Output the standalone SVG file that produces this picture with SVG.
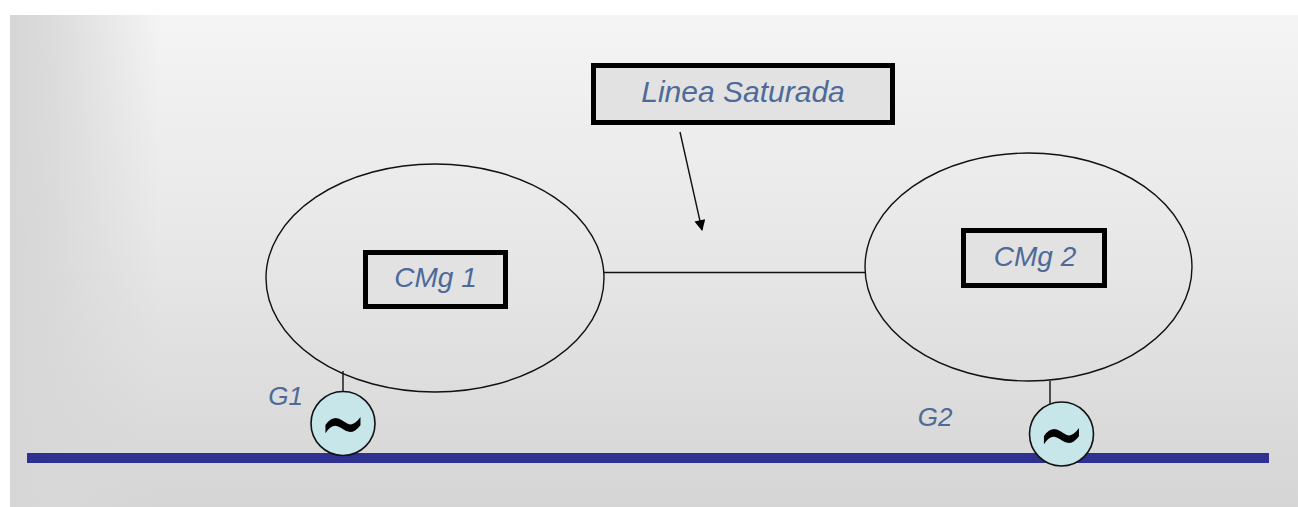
<svg xmlns="http://www.w3.org/2000/svg" width="1298" height="507" viewBox="0 0 1298 507">
  <defs>
    <linearGradient id="bgV" x1="0" y1="0" x2="0" y2="1">
      <stop offset="0" stop-color="#f4f4f4"/>
      <stop offset="0.45" stop-color="#e8e8e8"/>
      <stop offset="1" stop-color="#d5d5d5"/>
    </linearGradient>
    <linearGradient id="bgH" gradientUnits="userSpaceOnUse" x1="10" y1="0" x2="160" y2="0">
      <stop offset="0" stop-color="#d6d6d6" stop-opacity="1"/>
      <stop offset="0.3" stop-color="#d8d8d8" stop-opacity="0.85"/>
      <stop offset="1" stop-color="#d8d8d8" stop-opacity="0"/>
    </linearGradient>
    <marker id="arrowHead" viewBox="0 0 10 10" refX="9" refY="5" markerWidth="12" markerHeight="11" markerUnits="userSpaceOnUse" orient="auto">
      <path d="M0,0 L10,5 L0,10 z" fill="#000"/>
    </marker>
    <style>
      .zone { fill: none; stroke: #111; stroke-width: 1.4; }
      .label-box { fill: #e2e2e2; stroke: #000; stroke-width: 5; }
      .label { font-family: "Liberation Sans", Arial, sans-serif; font-style: italic; fill: #4d6a98; }
      .gen { fill: #c6e6ea; stroke: #111; stroke-width: 1.6; }
      .tilde { font-family: "DejaVu Sans", sans-serif; fill: #000; }
      .wire { stroke: #111; stroke-width: 1.4; fill: none; }
      .bus { fill: #2f3190; }
    </style>
  </defs>

  <!-- backdrop -->
  <rect x="0" y="0" width="1298" height="507" fill="#ffffff"/>
  <rect x="10" y="15" width="1288" height="492" fill="url(#bgV)"/>
  <rect x="10" y="15" width="160" height="492" fill="url(#bgH)"/>

  <!-- busbar -->
  <rect id="bus" class="bus" x="27" y="453" width="1242" height="10"/>

  <g id="connectors">
    <line class="wire" x1="604" y1="272.5" x2="865" y2="272.5"/>
    <line class="wire" x1="343" y1="371" x2="343" y2="392"/>
    <line class="wire" x1="1050" y1="381" x2="1050" y2="405"/>
    <line class="wire" x1="680" y1="132" x2="702" y2="230" stroke-width="1.6" marker-end="url(#arrowHead)"/>
  </g>

  <g id="zone1">
    <ellipse class="zone" cx="435" cy="278" rx="169" ry="114"/>
    <rect class="label-box" x="365.5" y="252.5" width="140" height="54"/>
    <text class="label" x="435.5" y="287" font-size="28" text-anchor="middle">CMg 1</text>
  </g>

  <g id="zone2">
    <ellipse class="zone" cx="1028.5" cy="267" rx="163.5" ry="114"/>
    <rect class="label-box" x="963.5" y="230.5" width="141" height="55"/>
    <text class="label" x="1035" y="266" font-size="28" text-anchor="middle">CMg 2</text>
  </g>

  <g id="saturated-line-note">
    <rect class="label-box" x="593.5" y="65.5" width="299" height="57"/>
    <text class="label" x="743" y="102" font-size="30" text-anchor="middle">Linea Saturada</text>
  </g>

  <g id="g1">
    <circle class="gen" cx="343" cy="423.5" r="32"/>
    <text class="tilde" transform="translate(343,426.5) scale(1,1.7)" x="0" y="17" font-size="56" text-anchor="middle">~</text>
    <text class="label" x="285.5" y="405" font-size="26" text-anchor="middle">G1</text>
  </g>

  <g id="g2">
    <circle class="gen" cx="1061.5" cy="434" r="32"/>
    <text class="tilde" transform="translate(1061.5,437) scale(1,1.7)" x="0" y="17" font-size="56" text-anchor="middle">~</text>
    <text class="label" x="935" y="426" font-size="26" text-anchor="middle">G2</text>
  </g>
</svg>
